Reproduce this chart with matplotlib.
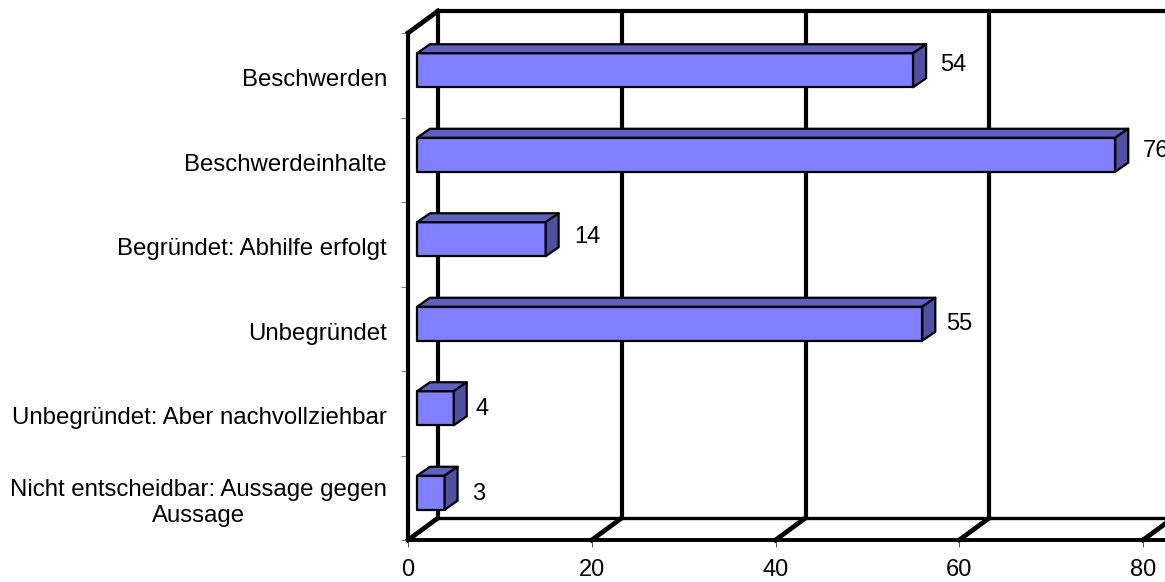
import matplotlib
matplotlib.use("Agg")
import matplotlib.pyplot as plt
from matplotlib.patches import Polygon

plt.rcParams['font.family'] = ['Liberation Sans', 'DejaVu Sans']

categories = ["Beschwerden", "Beschwerdeinhalte", "Begründet: Abhilfe erfolgt",
              "Unbegründet", "Unbegründet: Aber nachvollziehbar",
              "Nicht entscheidbar: Aussage gegen\nAussage"]
values = [54, 76, 14, 55, 4, 3]
x_ticks = [0, 20, 40, 60, 80]

W, H = 1165, 582
fig = plt.figure(figsize=(W / 100, H / 100), dpi=100, facecolor="white")
ax = fig.add_axes([408 / W, (H - 540) / H, 735 / W, 507 / H])
ax.set_xlim(0, 80)
ax.set_ylim(6, 0)
px_x = 80 / 735      # data units per pixel
px_y = 6 / 507
for s in ax.spines.values():
    s.set_visible(False)
ax.patch.set_visible(False)

# wall/floor offset of the pseudo-3D box
wx, wy = 30 * px_x, -22 * px_y
lw = 3.0
line = dict(color="black", clip_on=False, solid_capstyle="projecting")

for t in x_ticks:
    ax.plot([t + wx, t + wx], [0 + wy, 6 + wy], zorder=1, lw=lw, **line)
    ax.plot([t, t + wx], [6, 6 + wy], zorder=1, lw=lw + 0.4, **line)
xr = 100
ax.plot([wx, xr], [wy, wy], zorder=1, lw=lw, **line)
ax.plot([wx, xr], [6 + wy, 6 + wy], zorder=1, lw=lw - 0.6, **line)
ax.plot([0, wx], [0, wy], zorder=1, lw=lw + 0.4, **line)
ax.plot([0, 0], [0, 6], zorder=2, lw=lw, **line)
ax.plot([0, xr], [6, 6], zorder=2, lw=lw - 0.2, **line)

# bars
y_pos = [i + 0.5 for i in range(len(values))]
bar_left = 9 * px_x
bar_shift = -5 * px_y
bar_h = 34 * px_y
dx, dy = 13 * px_x, -9 * px_y
edge = dict(edgecolor="black", linewidth=1.6, joinstyle="round", zorder=4, clip_on=False)
ys = [y + bar_shift for y in y_pos]
ax.barh(ys, values, height=bar_h, left=bar_left, color="#8080FF", **edge)
for y, v in zip(ys, values):
    x1 = bar_left + v
    top, bot = y - bar_h / 2, y + bar_h / 2
    ax.add_patch(Polygon([(bar_left, top), (bar_left + dx, top + dy), (x1 + dx, top + dy), (x1, top)],
                         closed=True, facecolor="#6060C0", **edge))
    ax.add_patch(Polygon([(x1, top), (x1 + dx, top + dy), (x1 + dx, bot + dy), (x1, bot)],
                         closed=True, facecolor="#5050A0", **edge))

# value labels: horizontal gap from bar end (px), vertical nudge (px)
gap_px = [27, 28, 29, 24, 22, 28]
nudge_px = [-5, -4, -2, 0, 1, 1]
for y, v, g, n in zip(ys, values, gap_px, nudge_px):
    ax.text(bar_left + v + g * px_x, y + n * px_y, str(v), ha="left", va="center",
            fontsize=17, color="black", zorder=6, clip_on=False)

# axes ticks
ax.set_xticks(x_ticks)
ax.tick_params(axis="x", length=5, width=0.7, color="#555555", pad=9, labelsize=17)
ax.set_yticks(range(7))
ax.set_yticklabels([])
ax.tick_params(axis="y", length=5, width=0.7, color="#777777")

# category labels
for y, c in zip(y_pos, categories):
    ax.text(-21 * px_x, y + 5 * px_y, c, ha="right", va="center", ma="center",
            fontsize=17.3, linespacing=1.22, color="black", clip_on=False)

fig.savefig("out.png", dpi=100)
